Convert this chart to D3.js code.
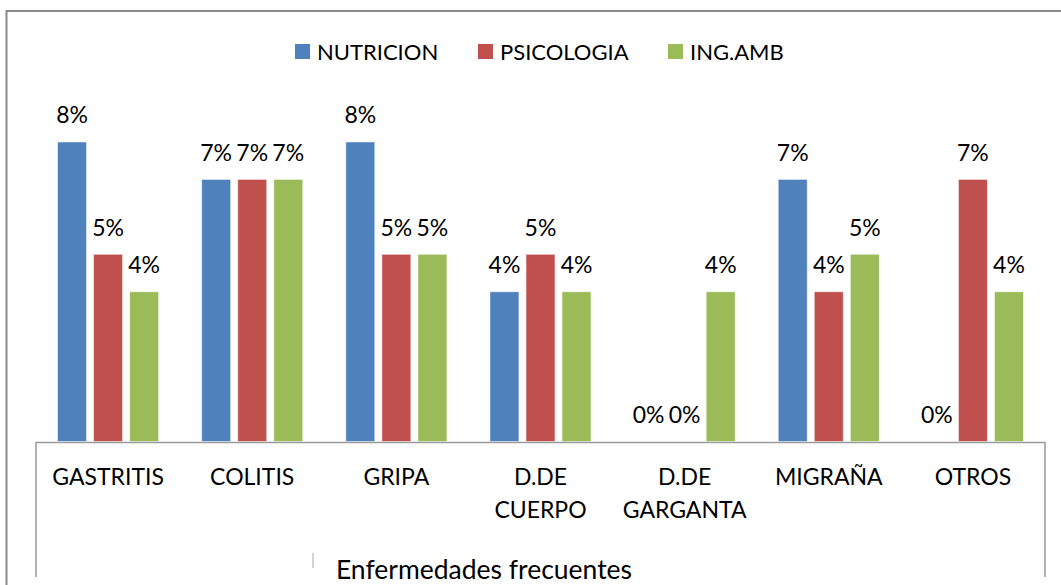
<!DOCTYPE html>
<html>
<head>
<meta charset="utf-8">
<script src="https://cdn.jsdelivr.net/npm/d3@7"></script>
<style>
  html, body { margin: 0; padding: 0; background: #fff; }
  svg { display: block; font-family: Lato, 'Open Sans', sans-serif; }
</style>
</head>
<body>
<div id="chart"></div>
<script>
// Categories and series (in %)
const categories = ['GASTRITIS', 'COLITIS', 'GRIPA', 'D.DE CUERPO', 'D.DE GARGANTA', 'MIGRAÑA', 'OTROS'];
const categoryLines = [['GASTRITIS'], ['COLITIS'], ['GRIPA'], ['D.DE', 'CUERPO'], ['D.DE', 'GARGANTA'], ['MIGRAÑA'], ['OTROS']];
const seriesNames = ['NUTRICION', 'PSICOLOGIA', 'ING.AMB'];
const nutricion = [8, 7, 8, 4, 0, 7, 0];
const psicologia = [5, 7, 5, 5, 0, 4, 7];
const ingAmb = [4, 7, 5, 4, 4, 5, 4];
const colors = ['#4f81bd', '#c0504d', '#9bbb59'];

const seriesValues = [nutricion, psicologia, ingAmb];

const width = 1061;
const height = 585;

const svg = d3.select('#chart')
    .append('svg')
    .attr('width', width)
    .attr('height', height);

// Outer chart border (cut off at the right and bottom)
svg.append('path')
    .attr('d', `M6.5,${height + 5}V11H${width + 5}`)
    .attr('fill', 'none')
    .attr('stroke', '#8a8a8a')
    .attr('stroke-width', 2);

// Scales
const x0 = d3.scaleBand()
    .domain(categories)
    .range([36, 1045]);

const groupPad = 21.5;
const x1 = d3.scaleBand()
    .domain(seriesNames)
    .range([groupPad, x0.bandwidth() - groupPad])
    .paddingInner(7 / 36);

const y = d3.scaleLinear()
    .domain([0, 9])
    .range([441.5, 104.5]);

// Bars
const groups = svg.append('g')
    .selectAll('g')
    .data(categories)
    .enter()
    .append('g')
    .attr('transform', d => `translate(${x0(d)},0)`);

groups.selectAll('rect')
    .data((d, i) => seriesNames.map((s, j) => ({ series: s, j: j, value: seriesValues[j][i] })))
    .enter()
    .append('rect')
    .attr('x', d => x1(d.series))
    .attr('y', d => y(d.value))
    .attr('width', x1.bandwidth())
    .attr('height', d => y(0) - y(d.value))
    .attr('fill', d => colors[d.j])
    .attr('stroke', 'rgba(255,255,255,0.55)')
    .attr('stroke-width', 1);

// Value labels
groups.selectAll('text')
    .data((d, i) => seriesNames.map((s, j) => ({ series: s, value: seriesValues[j][i] })))
    .enter()
    .append('text')
    .attr('x', d => x1(d.series) + x1.bandwidth() / 2)
    .attr('y', d => y(d.value) - 18.5)
    .attr('text-anchor', 'middle')
    .attr('font-size', 23)
    .attr('fill', '#000')
    .text(d => d.value + '%');

// Category axis box
svg.append('path')
    .attr('d', 'M36,577V442.5H1045V577')
    .attr('fill', 'none')
    .attr('stroke', '#9a9a9a')
    .attr('stroke-width', 1.5);

// Category labels
const catLabels = svg.append('g')
    .selectAll('text')
    .data(categories)
    .enter()
    .append('text')
    .attr('x', d => x0(d) + x0.bandwidth() / 2)
    .attr('y', 485)
    .attr('text-anchor', 'middle')
    .attr('font-size', 23)
    .attr('fill', '#000');

catLabels.selectAll('tspan')
    .data((d, i) => categoryLines[i])
    .enter()
    .append('tspan')
    .attr('x', function() { return d3.select(this.parentNode).attr('x'); })
    .attr('dy', (d, i) => i === 0 ? 0 : 33)
    .text(d => d);

// Axis title
svg.append('line')
    .attr('x1', 313).attr('x2', 313)
    .attr('y1', 553).attr('y2', 568)
    .attr('stroke', '#aaa')
    .attr('stroke-width', 1);

svg.append('text')
    .attr('x', 484)
    .attr('y', 579)
    .attr('text-anchor', 'middle')
    .attr('font-size', 26.5)
    .attr('fill', '#000')
    .text('Enfermedades frecuentes');

// Legend
const legendX = [295, 478, 668];
const legend = svg.append('g')
    .selectAll('g')
    .data(seriesNames)
    .enter()
    .append('g')
    .attr('transform', (d, i) => `translate(${legendX[i]},44)`);

legend.append('rect')
    .attr('width', 15)
    .attr('height', 15)
    .attr('fill', (d, i) => colors[i]);

legend.append('text')
    .attr('x', 22)
    .attr('y', 15.5)
    .attr('font-size', 22)
    .attr('fill', '#000')
    .text(d => d);
</script>
</body>
</html>
